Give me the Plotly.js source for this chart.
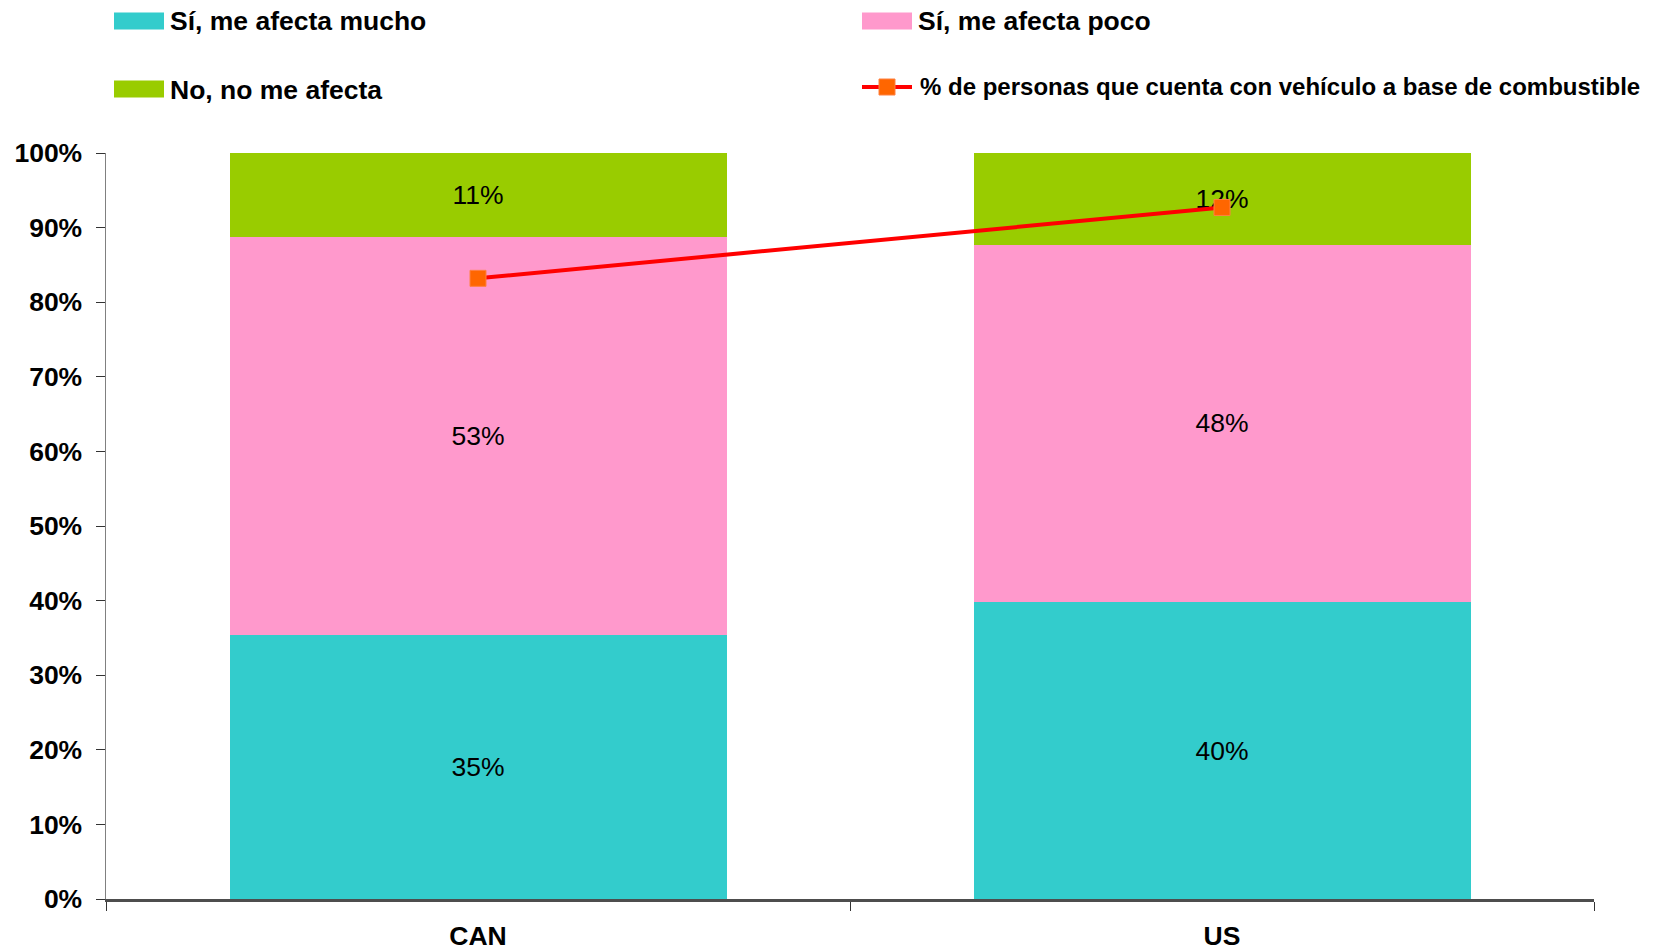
<!DOCTYPE html>
<html>
<head>
<meta charset="utf-8">
<script src="https://cdn.plot.ly/plotly-3.0.1.min.js"></script>
<style>html,body{margin:0;padding:0;background:#fff;}#chart{width:1659px;height:951px;}</style>
</head>
<body>
<div id="chart"></div>
<script>
// ---- data ----
const categories = ['CAN', 'US'];
const muchoValues = [35.4, 39.8];
const pocoValues = [53.3, 47.9];
const noValues = [11.3, 12.3];
const vehiculoValues = [83.2, 92.7];
const seriesNames = ['Sí, me afecta mucho', 'Sí, me afecta poco', 'No, no me afecta',
  '% de personas que cuenta con vehículo a base de combustible'];
const yTickValues = [0, 10, 20, 30, 40, 50, 60, 70, 80, 90, 100];
const yTickLabels = ['0%', '10%', '20%', '30%', '40%', '50%', '60%', '70%', '80%', '90%', '100%'];

// ---- style ----
const W = 1659, H = 951;
const L = 106, R = 1594, T = 153, B = 899;
const colors = ['#33CCCC', '#FF99CC', '#99CC00'];
const FONT = 'Liberation Sans, Arial, sans-serif';
const FS = 26.5;

function barTrace(vals, i) {
  return {
    type: 'bar', x: categories, y: vals, name: seriesNames[i],
    marker: {color: colors[i], line: {width: 0}},
    texttemplate: '%{y:.0f}%', textposition: 'inside', insidetextanchor: 'middle',
    constraintext: 'none',
    textfont: {family: FONT, size: FS, color: '#000'},
    hoverinfo: 'x+y', showlegend: false
  };
}

const traces = [
  barTrace(muchoValues, 0),
  barTrace(pocoValues, 1),
  barTrace(noValues, 2),
  {
    type: 'scatter', mode: 'lines+markers', x: categories, y: vehiculoValues,
    name: seriesNames[3],
    line: {color: '#FF0000', width: 4},
    marker: {symbol: 'square', size: 16, color: '#FF6600', line: {color: '#FF8040', width: 1}},
    showlegend: false
  }
];

// custom legend (pixel -> paper helpers)
const px = v => (v - L) / (R - L);
const py = v => (B - v) / (B - T);
const legendItems = [
  {x: 114, y: 21, tx: 168, ty: 21, fs: FS, kind: 'bar', color: colors[0], name: seriesNames[0]},
  {x: 862, y: 21, tx: 916, ty: 21, fs: FS, kind: 'bar', color: colors[1], name: seriesNames[1]},
  {x: 114, y: 89, tx: 168, ty: 90, fs: FS, kind: 'bar', color: colors[2], name: seriesNames[2]},
  {x: 862, y: 87, tx: 918, ty: 87, fs: 24, kind: 'line', color: '#FF0000', name: seriesNames[3]}
];
const shapes = [], annotations = [];
legendItems.forEach(it => {
  if (it.kind === 'bar') {
    shapes.push({type: 'rect', xref: 'paper', yref: 'paper',
      x0: px(it.x), x1: px(it.x + 50), y0: py(it.y + 8.5), y1: py(it.y - 8.5),
      fillcolor: it.color, line: {width: 0}});
  } else {
    shapes.push({type: 'line', xref: 'paper', yref: 'paper',
      x0: px(it.x), x1: px(it.x + 50), y0: py(it.y), y1: py(it.y),
      line: {color: '#FF0000', width: 4}});
    shapes.push({type: 'rect', xref: 'paper', yref: 'paper',
      x0: px(it.x + 17), x1: px(it.x + 33), y0: py(it.y + 8), y1: py(it.y - 8),
      fillcolor: '#FF6600', line: {color: '#FF8040', width: 1}});
  }
  annotations.push({xref: 'paper', yref: 'paper', x: px(it.tx), y: py(it.ty),
    xanchor: 'left', yanchor: 'middle', showarrow: false, text: it.name,
    font: {family: FONT, size: it.fs, color: '#000', weight: 700}});
});

const layout = {
  width: W, height: H,
  margin: {l: L, r: W - R, t: T, b: H - B, pad: 0},
  paper_bgcolor: '#fff', plot_bgcolor: '#fff',
  barmode: 'stack', bargap: 0.332,
  showlegend: false,
  font: {family: FONT, color: '#000'},
  xaxis: {
    type: 'category', showgrid: false, zeroline: false,
    showline: true, linecolor: '#4d4d4d', linewidth: 2.5,
    ticks: 'outside', tickson: 'boundaries', ticklen: 9, tickcolor: '#333', tickwidth: 1,
    ticklabelstandoff: 12,
    tickfont: {family: FONT, size: FS, color: '#000', weight: 700}
  },
  yaxis: {
    range: [0, 100], showgrid: false, zeroline: false,
    showline: true, linecolor: '#808080', linewidth: 1.5,
    tickvals: yTickValues, ticktext: yTickLabels,
    ticks: 'outside', ticklen: 9, tickcolor: '#333', tickwidth: 1,
    ticklabelstandoff: 8,
    tickfont: {family: FONT, size: FS, color: '#000', weight: 700}
  },
  shapes: shapes,
  annotations: annotations
};

Plotly.newPlot('chart', traces, layout, {displayModeBar: false, staticPlot: true});
</script>
</body>
</html>
